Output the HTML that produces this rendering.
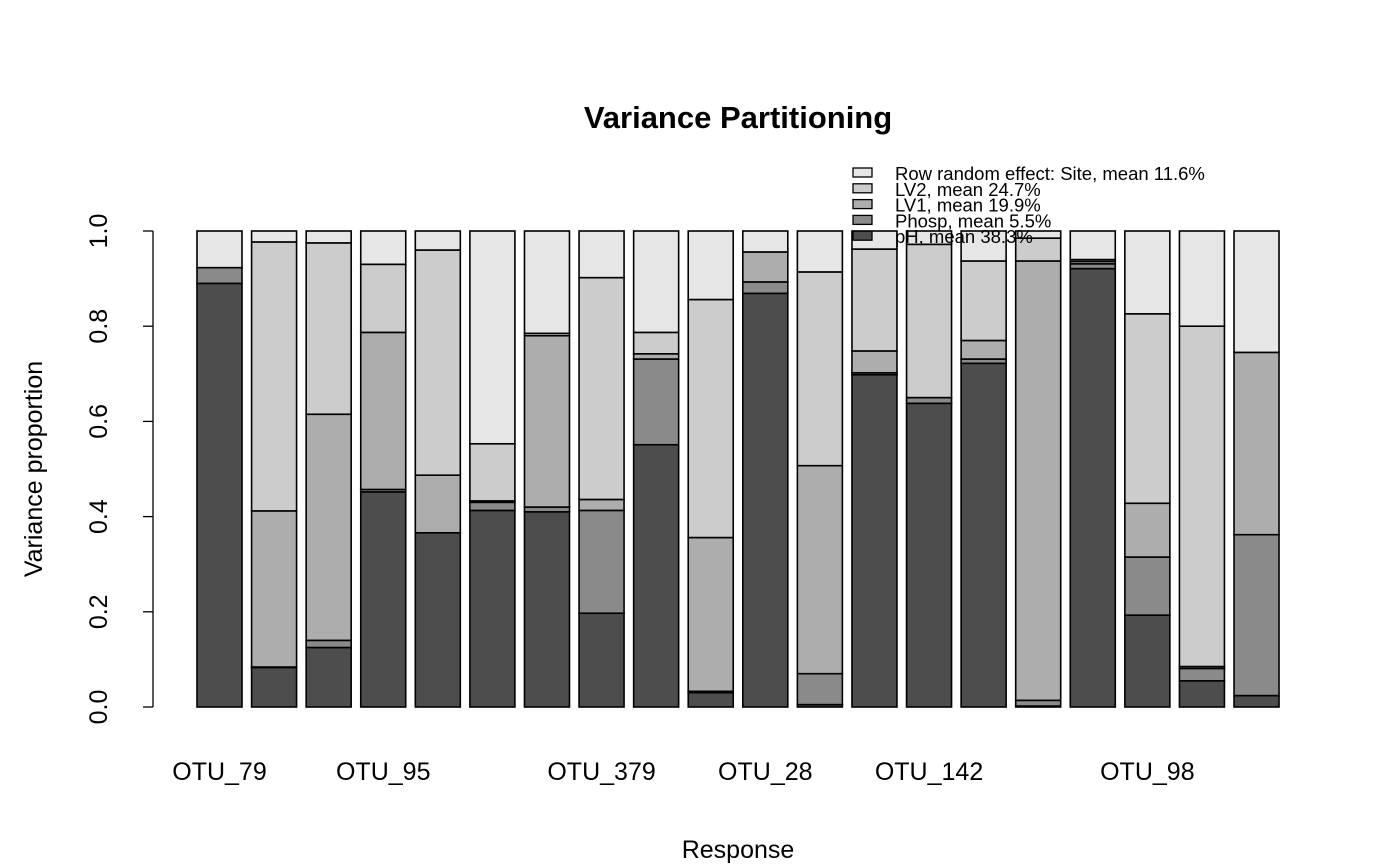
<!DOCTYPE html>
<html><head><meta charset="utf-8"><style>body{margin:0;background:#fff}svg{display:block;font-family:"Liberation Sans",Arial,sans-serif}</style></head>
<body>
<svg id="chart" width="1400" height="866" viewBox="0 0 1400 866">
<text x="738" y="128" text-anchor="middle" font-size="31" font-weight="bold">Variance Partitioning</text>
<text x="738" y="858" text-anchor="middle" font-size="25">Response</text>
<text transform="translate(42,469) rotate(-90)" text-anchor="middle" font-size="25">Variance proportion</text>
<g id="yaxis"></g>
<g id="bars"></g>
<g id="xlabels"></g>
<g id="legend"></g>
</svg>
<script>
const categories=["OTU_79","b2","b3","OTU_95","b5","b6","b7","OTU_379","b9","b10","OTU_28","b12","b13","OTU_142","b15","b16","b17","OTU_98","b19","b20"];
const shownLabels=["OTU_79","OTU_95","OTU_379","OTU_28","OTU_142","OTU_98"];
const seriesNames=["pH, mean 38.3%","Phosp, mean 5.5%","LV1, mean 19.9%","LV2, mean 24.7%","Row random effect: Site, mean 11.6%"];
const pH=[.89,.083,.125,.452,.366,.413,.41,.197,.551,.03,.869,.005,.698,.638,.722,.002,.921,.193,.055,.024];
const phosp=[.033,.001,.015,.005,0,.017,.01,.216,.18,.003,.024,.065,.004,.012,.009,.012,.01,.122,.026,.338];
const lv1=[0,.328,.475,.33,.121,.003,.36,.023,.011,.323,.063,.437,.046,0,.039,.923,.005,.113,.004,.383];
const lv2=[0,.565,.36,.143,.473,.12,.005,.466,.045,.5,0,.407,.214,.322,.167,.048,.004,.398,.715,0];
const site=[.077,.023,.025,.07,.04,.447,.215,.098,.213,.144,.044,.086,.038,.028,.063,.015,.06,.174,.2,.255];
const yTicks=[0,0.2,0.4,0.6,0.8,1.0];
const tickLabels=["0.0","0.2","0.4","0.6","0.8","1.0"];
const colors=["#4d4d4d","#8a8a8a","#adadad","#cccccc","#e6e6e6"];
const NS="http://www.w3.org/2000/svg";
const y=v=>707-476*v;
const x0=197,step=54.58,bw=45;
const xs=i=>x0+i*step;
function mk(tag,attrs,parent){const e=document.createElementNS(NS,tag);for(const k in attrs)e.setAttribute(k,attrs[k]);parent.appendChild(e);return e;}
const ya=document.getElementById('yaxis');
const axLine=mk('line',{x1:153,x2:153,y1:y(0),y2:y(1),stroke:'#000','stroke-width':1.3},ya);


yTicks.forEach((t,i)=>{
 const tk=mk('line',{x1:143,x2:153,y1:y(t),y2:y(t),stroke:'#000','stroke-width':1.3},ya);
 
 
 const tl=mk('text',{transform:`translate(107,${y(t)}) rotate(-90)`,'text-anchor':'middle','font-size':25},ya);
 tl.textContent=tickLabels[i];
 
 
});
const series=[pH,phosp,lv1,lv2,site];
const bg=document.getElementById('bars');
categories.forEach((c,i)=>{
 let cum=0;
 series.forEach((s,j)=>{
  const v=s[i];
  const r=mk('rect',{x:xs(i),y:y(cum+v),width:bw,height:476*v,fill:colors[j],stroke:'#000','stroke-width':1.6},bg);
  
  
  cum+=v;
 });
});
const xl=document.getElementById('xlabels');
categories.forEach((c,i)=>{
 if(shownLabels.includes(c)){
  const t=mk('text',{x:xs(i)+bw/2,y:780,'text-anchor':'middle','font-size':25},xl);
  t.textContent=c;
  
  
 }
});
const lg=document.getElementById('legend');
for(let k=0;k<5;k++){
 const j=4-k;
 const ly=173+k*15.8;
 const b=mk('rect',{x:853,y:ly-5,width:19,height:9,fill:colors[j],stroke:'#000','stroke-width':1.3},lg);
 
 
 const t=mk('text',{x:895,y:ly+7,'font-size':18.5},lg);
 t.textContent=seriesNames[j];
 
 
}
</script>
</body></html>
